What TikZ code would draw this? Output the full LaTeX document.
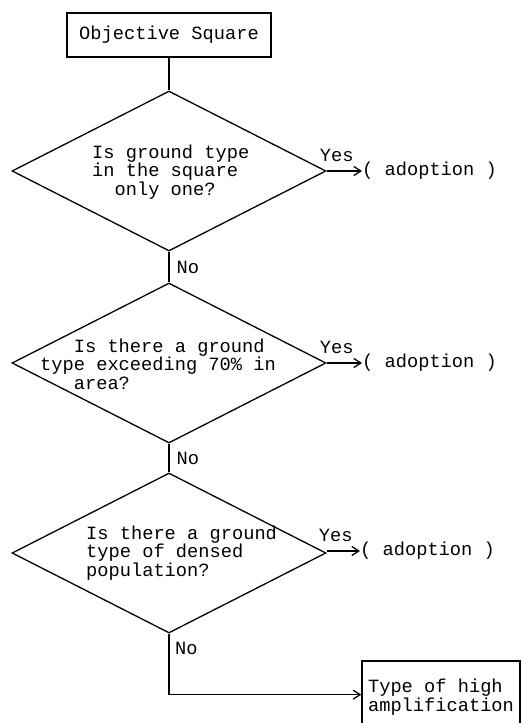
\documentclass[tikz,border=0pt]{standalone}
\usepackage{fontspec}
\setmonofont{Liberation Mono}
\usepackage{tikz}
\usetikzlibrary{arrows.meta, shapes.geometric, positioning}

\begin{document}
\begin{tikzpicture}[x=1pt, y=-1pt,
    txt/.style={font=\fontsize{18.7pt}{18.5pt}\selectfont\ttfamily, inner sep=0pt},
    question/.style={txt, align=left, anchor=west},
    decision/.style={shape=diamond, draw, line width=1.3pt, minimum width=314pt, minimum height=160pt, inner sep=0pt},
    box/.style={txt, draw, line width=1.3pt},
    line/.style={line width=1.3pt},
    flow/.style={line, -{Straight Barb[length=7pt, width=9pt]}},
    yes/.style={txt, above=9pt, xshift=-7.5pt},
    no/.style={txt, right=7pt}]
    \pgfmathsetmacro{\cx}{169}
    \useasboundingbox (0,0) rectangle (522,723);
    \clip (0,0) rectangle (522,723);

    % Start box
    \node[box, minimum width=204pt, minimum height=44pt] (box0) at ({\cx}, {35}) {Objective Square};

    % Decisions
    \node[decision] (cond1) at ({\cx}, {171}) {};
    \node[decision] (cond2) at ({\cx}, {363}) {};
    \node[decision] (cond3) at ({\cx}, {553}) {};
    \node[question] (q1) at ({92}, {172}) {Is ground type\\in the square\\\hphantom{xx}only one?};
    \node[question] (q2) at ({40}, {364}) {\hphantom{xxx}Is there a ground\\type exceeding 70\% in\\\hphantom{xxx}area?};
    \node[question] (q3) at ({86}, {553}) {Is there a ground\\type of densed\\population?};

    % Results
    \node[txt, anchor=west] (adopt1) at ({362}, {171}) {( adoption )};
    \node[txt, anchor=west] (adopt2) at ({362}, {363}) {( adoption )};
    \node[txt, anchor=west] (adopt3) at ({360}, {551}) {( adoption )};
    \node[box, minimum width=158pt, minimum height=72pt, align=left] (box4) at ({441}, {697}) {Type of high\\amplification};

    % Connectors
    \draw[line] (box0) -- (cond1);
    \draw[line] (cond1.south) -- node[no] (no1) {No} (cond2.north);
    \draw[line] (cond2.south) -- node[no] (no2) {No} (cond3.north);
    \draw[flow] (cond3.south) -- ++(0,61) coordinate (turn) -- (turn -| box4.west);
    \node[txt, anchor=north west] (no3) at ([xshift=6pt, yshift=-8pt]cond3.south) {No};
    \draw[flow] (cond1.east) -- node[yes] (yes1) {Yes} (adopt1.west);
    \draw[flow] (cond2.east) -- node[yes] (yes2) {Yes} (adopt2.west);
    \draw[flow] (cond3.east |- adopt3) -- node[yes] (yes3) {Yes} (adopt3.west);
\end{tikzpicture}
\end{document}
